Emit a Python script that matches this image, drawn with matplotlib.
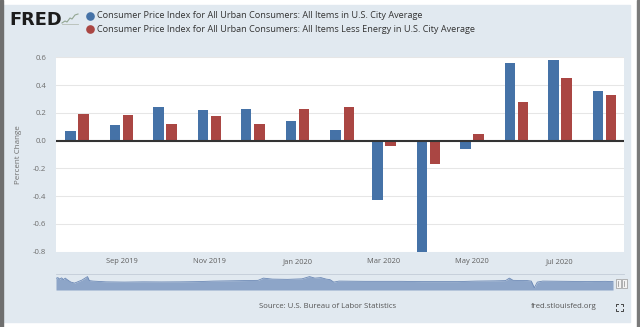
import matplotlib
matplotlib.use("Agg")
import matplotlib.pyplot as plt
import matplotlib.dates as mdates
from matplotlib.patches import Rectangle
from matplotlib.lines import Line2D
from datetime import datetime
import numpy as np

# Monthly percent change, Aug 2019 - Aug 2020
months = [datetime(2019, 8, 1), datetime(2019, 9, 1), datetime(2019, 10, 1),
          datetime(2019, 11, 1), datetime(2019, 12, 1), datetime(2020, 1, 1),
          datetime(2020, 2, 1), datetime(2020, 3, 1), datetime(2020, 4, 1),
          datetime(2020, 5, 1), datetime(2020, 6, 1), datetime(2020, 7, 1),
          datetime(2020, 8, 1)]
all_items = [0.07, 0.11, 0.24, 0.22, 0.23, 0.14, 0.08, -0.43, -0.80, -0.06, 0.56, 0.58, 0.36]
less_energy = [0.19, 0.185, 0.12, 0.175, 0.12, 0.23, 0.24, -0.04, -0.17, 0.05, 0.28, 0.45, 0.33]

series_names = [
    "Consumer Price Index for All Urban Consumers: All Items in U.S. City Average",
    "Consumer Price Index for All Urban Consumers: All Items Less Energy in U.S. City Average",
]
y_ticks = [-0.8, -0.6, -0.4, -0.2, 0.0, 0.2, 0.4, 0.6]

# Full-history overview shown in the navigator strip (year, percent change)
nav_years = [1947.0, 1947.24, 1947.49, 1947.73, 1947.98, 1948.22, 1948.47, 1948.96,
             1949.45, 1949.93, 1950.42, 1951.16, 1951.4, 1951.89, 1953.6, 1956.0,
             1958.5, 1960.9, 1963.4, 1965.8, 1967.8, 1969.7, 1971.7, 1973.7, 1974.4,
             1975.6, 1977.6, 1979.5, 1980.5, 1981.2, 1982.0, 1982.7, 1983.2, 1983.7,
             1984.4, 1987.8, 1990.3, 1992.7, 1995.2, 2000.1, 2002.5, 2005.0, 2006.4,
             2006.9, 2007.4, 2009.3, 2009.8, 2010.2, 2010.6, 2011.3, 2014.7, 2017.2,
             2019.6, 2020.6]
nav_values = [1.91, 2.28, 1.54, 2.16, 1.3, 2.03, 1.3, 0.08,
              -0.41, 0.32, 1.06, 2.77, 0.81, 0.57, 0.2, 0.08,
              0.2, 0.15, 0.2, 0.32, 0.57, 0.69, 0.81, 0.93, 2.03,
              1.54, 1.42, 1.67, 2.77, 2.03, 2.28, 1.54, 1.3, 0.08,
              0.57, 0.44, 0.44, 0.44, 0.32, 0.32, 0.57, 0.69, 0.81,
              2.03, 0.93, 0.81, 0.57, -2.7, 0.08, 0.57, 0.44, 0.32,
              0.44, 0.32]

W, H = 640, 327
BLUE = "#4572a7"
RED = "#aa4643"
PANEL = "#e1e9f0"
FONT = "Open Sans"


def fx(px):
    return px / W


def fy(py):
    return 1 - py / H


fig = plt.figure(figsize=(W / 100, H / 100), dpi=100)
fig.patch.set_facecolor("white")

# Background panel and frame borders
fig.add_artist(Rectangle((fx(3), fy(321.7)), fx(630 - 3), (321.7 - 4.5) / H,
                         transform=fig.transFigure, color=PANEL, zorder=0))
fig.add_artist(Rectangle((0, 0), fx(3), 1, transform=fig.transFigure,
                         color="#6f6f6f", zorder=1))
fig.add_artist(Rectangle((fx(636.7), 0), fx(3.3), 1, transform=fig.transFigure,
                         color="#7a7a7a", zorder=1))

# Main chart
ax = fig.add_axes([fx(56), fy(251.7), fx(568), (251.7 - 57.3) / H])
ax.set_facecolor("white")
x = mdates.date2num(months)
ax.bar(x - 4.5, all_items, width=7.2, color=BLUE, linewidth=0, zorder=3)
ax.bar(x + 4.6, less_energy, width=7.2, color=RED, linewidth=0, zorder=3)
ax.axhline(0, color="#333333", lw=1.5, zorder=4)

ax.set_xlim(mdates.date2num(datetime(2019, 7, 17, 12)),
            mdates.date2num(datetime(2020, 8, 14, 12)))
ax.set_ylim(-0.8, 0.6)
ax.set_yticks(y_ticks)
ax.set_yticklabels([f"{round(v, 1) + 0.0:.1f}" for v in y_ticks])
ax.xaxis.set_major_locator(mdates.MonthLocator(bymonth=[1, 3, 5, 7, 9, 11]))
ax.xaxis.set_major_formatter(mdates.DateFormatter("%b %Y"))
ax.grid(axis="y", color="#e6e6e6", lw=0.75, zorder=1)
ax.set_axisbelow(True)
for s in ax.spines.values():
    s.set_visible(False)
ax.tick_params(axis="y", length=0, pad=7.2, labelsize=5.6, labelcolor="#6e6e6e")
ax.tick_params(axis="x", length=0, pad=4.4, labelsize=5.4, labelcolor="#5e5e5e")
for lab in ax.get_xticklabels() + ax.get_yticklabels():
    lab.set_fontfamily(FONT)

fig.text(fx(18), fy(154.5), "Percent Change", rotation=90, ha="center", va="center",
         fontsize=5.8, color="#6e6e6e", family=FONT)

# Navigator strip
nav = fig.add_axes([fx(56), fy(290), fx(568), (290 - 274.3) / H])
nav.set_facecolor("none")
nav.fill_between(nav_years, nav_values, -3.8, color="#8da5c8", lw=0)
nav.plot(nav_years, nav_values, color="#6b88b5", lw=0.6)
nav.set_xlim(1947.0, 2022.05)
nav.set_ylim(-3.8, 3.9)
nav.set_xticks([])
nav.set_yticks([])
for k, s in nav.spines.items():
    if k == "top":
        s.set_color("#c3ccd8")
        s.set_linewidth(0.6)
    else:
        s.set_visible(False)

for hx in (615.5, 621.5):
    fig.add_artist(Rectangle((fx(hx), fy(288)), fx(5), 9 / H, transform=fig.transFigure,
                             facecolor="#f2f2f2", edgecolor="#999999", lw=0.5, zorder=5))
    fig.add_artist(Line2D([fx(hx + 2.5)] * 2, [fy(286), fy(281)], transform=fig.transFigure,
                          color="#888888", lw=0.5, zorder=6))

# Header: logo and legend
fig.text(fx(9), fy(25), "FRED", ha="left", va="baseline", fontsize=12.8,
         fontweight="heavy", family="DejaVu Sans", color="#1c1c1c")
icon_x = [62, 65, 67, 70, 72, 75, 78]
icon_y = [23, 21, 22, 18, 19, 15, 14]
fig.add_artist(Line2D([fx(v) for v in icon_x], [fy(v) for v in icon_y],
                      transform=fig.transFigure, color="#93a693", lw=0.8))
fig.add_artist(Line2D([fx(62), fx(78)], [fy(24), fy(24)], transform=fig.transFigure,
                      color="#b5bdb5", lw=0.6))

for i, (name, col) in enumerate(zip(series_names, [BLUE, RED])):
    yy = 16 + i * 13.3
    fig.add_artist(Line2D([fx(90)], [fy(yy)], marker="o", markersize=5.2, color=col,
                          linestyle="none", transform=fig.transFigure))
    fig.text(fx(97), fy(yy), name, ha="left", va="center", fontsize=6.6,
             color="#333333", family=FONT)

# Footer
fig.text(fx(327.5), fy(306.7), "Source: U.S. Bureau of Labor Statistics", ha="center",
         va="center", fontsize=5.6, color="#555555", family=FONT)
fig.text(fx(564), fy(306.7), "fred.stlouisfed.org", ha="center", va="center",
         fontsize=5.6, color="#555555", family=FONT)

# Expand icon
cx, cy, r, a = 619, 307, 3.5, 2
for sx in (-1, 1):
    for sy in (-1, 1):
        px, py = cx + sx * r, cy + sy * r
        fig.add_artist(Line2D([fx(px - sx * a), fx(px), fx(px)],
                              [fy(py), fy(py), fy(py - sy * a)],
                              transform=fig.transFigure, color="#444444", lw=0.7))

fig.savefig("out.png", dpi=100)
